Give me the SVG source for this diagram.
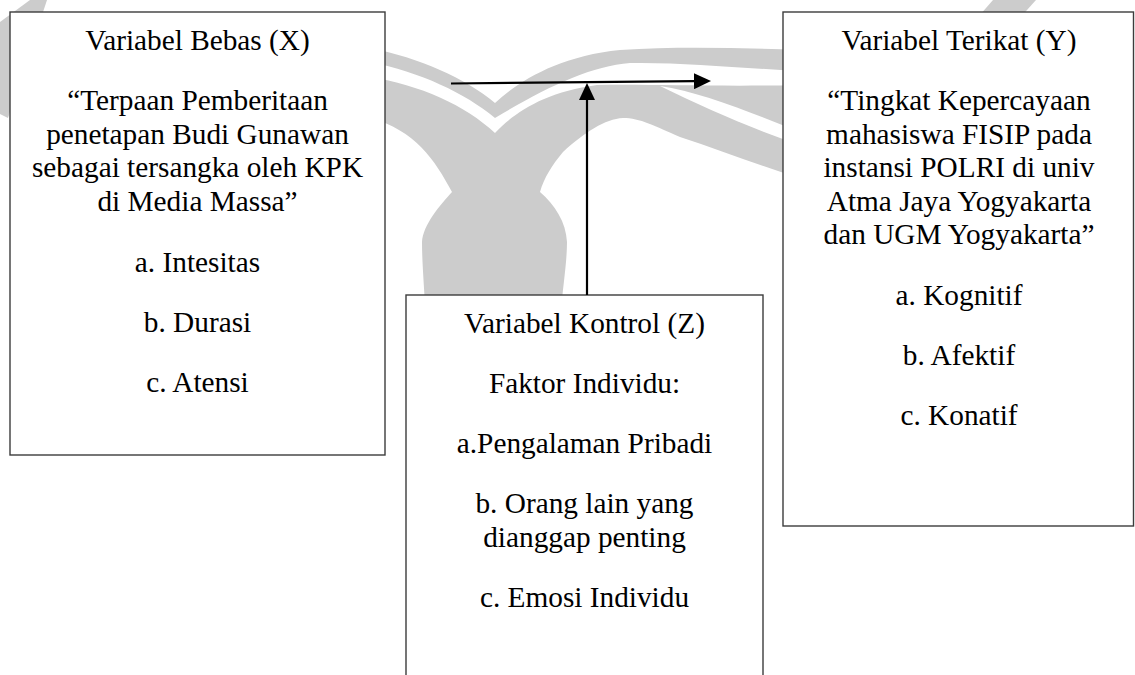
<svg xmlns="http://www.w3.org/2000/svg" width="1135" height="675" viewBox="0 0 1135 675">
<defs>
<style>
.wm{fill:#cccccc;stroke:none}
.wmw{fill:#ffffff;stroke:none}
.box{fill:#ffffff;stroke:#3c3c3c;stroke-width:1.4}
.t{font-family:"Liberation Serif","Times New Roman",serif;font-size:29.3px;fill:#000;text-anchor:middle}
.conn{stroke:#000;stroke-width:2.2;fill:none}
</style>
<marker id="ah" viewBox="0 0 17 16" refX="0" refY="8" markerWidth="17" markerHeight="16" markerUnits="userSpaceOnUse" orient="auto">
<path d="M0,0 L17,8 L0,16 Z" fill="#000"/>
</marker>
</defs>
<rect width="1135" height="675" fill="#ffffff"/>
<g id="watermark">
<path class="wm" d="M30,0 L47,0 L8,118 L0,114 L0,22 Z"/>
<path class="wm" d="M993,0 L1036,0 L1000,40 L958,40 Z"/>
<path class="wm" d="M370,48 C420,58 465,78 495,103 C520,80 560,56 620,50 C680,46 740,48 800,50 L800,71 C740,68 680,62 630,63 C590,66 545,88 495,118 C465,93 420,72 370,62 Z"/>
<path class="wm" d="M370,77 C420,85 465,105 495,133 C515,112 545,92 597,85 C650,84 720,87 800,85 L800,178 C760,166 720,150 680,137 C655,126 640,118 623,118 C605,119 585,132 563,152 C552,165 544,178 540,192 C555,205 566,222 567,242 C567,262 563,285 560,320 L426,320 C424,285 422,262 422,242 C423,225 440,205 452,192 C435,160 415,130 370,118 Z"/>
<path class="wmw" d="M660,86 C700,92 750,112 800,132 L800,145 C750,128 705,108 660,86 Z"/>
</g>
<g id="node-x">
<rect class="box" x="10" y="12" width="375" height="443"/>
<text class="t" x="197.5" y="50">Variabel Bebas (X)</text>
<text class="t" x="197.5" y="110">“Terpaan Pemberitaan</text>
<text class="t" x="197.5" y="143.5">penetapan Budi Gunawan</text>
<text class="t" x="197.5" y="177">sebagai tersangka oleh KPK</text>
<text class="t" x="197.5" y="210.5">di Media Massa”</text>
<text class="t" x="197.5" y="272">a. Intesitas</text>
<text class="t" x="197.5" y="332">b. Durasi</text>
<text class="t" x="197.5" y="392">c. Atensi</text>
</g>
<g id="node-y">
<rect class="box" x="783" y="12" width="350.5" height="514"/>
<text class="t" x="959" y="50">Variabel Terikat (Y)</text>
<text class="t" x="959" y="110">“Tingkat Kepercayaan</text>
<text class="t" x="959" y="143.5">mahasiswa FISIP pada</text>
<text class="t" x="959" y="177">instansi POLRI di univ</text>
<text class="t" x="959" y="210.5">Atma Jaya Yogyakarta</text>
<text class="t" x="959" y="244">dan UGM Yogyakarta”</text>
<text class="t" x="959" y="305">a. Kognitif</text>
<text class="t" x="959" y="365">b. Afektif</text>
<text class="t" x="959" y="425">c. Konatif</text>
</g>
<g id="node-z">
<rect class="box" x="406" y="295" width="357" height="400"/>
<text class="t" x="584.5" y="333">Variabel Kontrol (Z)</text>
<text class="t" x="584.5" y="393">Faktor Individu:</text>
<text class="t" x="584.5" y="453">a.Pengalaman Pribadi</text>
<text class="t" x="584.5" y="513">b. Orang lain yang</text>
<text class="t" x="584.5" y="547">dianggap penting</text>
<text class="t" x="584.5" y="607">c. Emosi Individu</text>
</g>
<g id="connectors">
<line class="conn" x1="451" y1="83.5" x2="694" y2="81.2" marker-end="url(#ah)"/>
<line class="conn" x1="587" y1="295" x2="587" y2="100" marker-end="url(#ah)"/>
</g>
</svg>
